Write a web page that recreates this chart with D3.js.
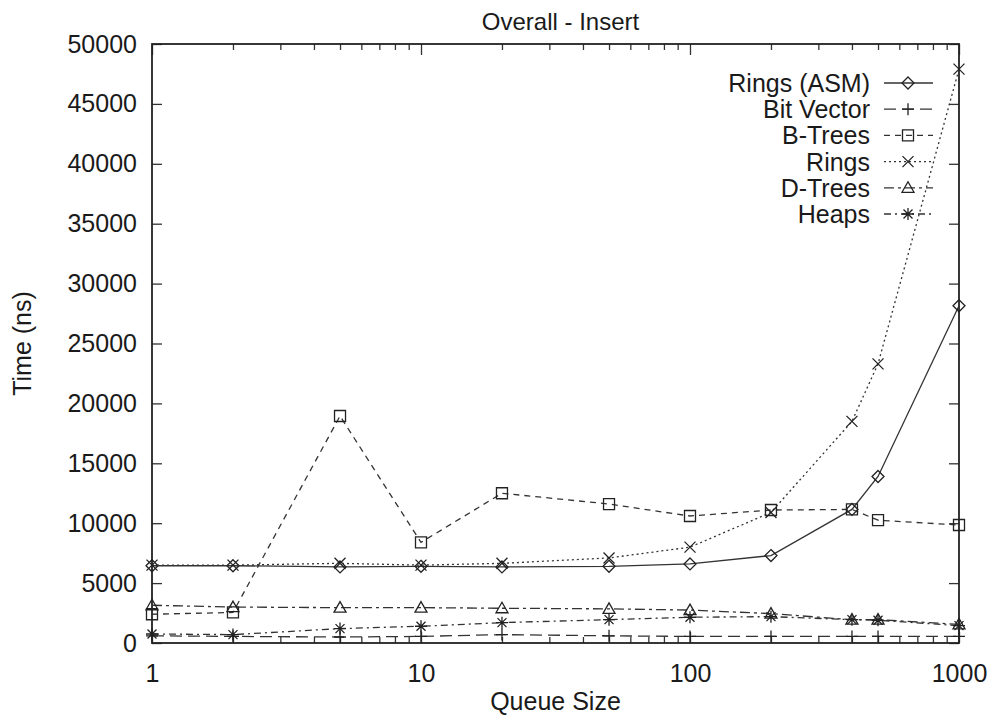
<!DOCTYPE html>
<html>
<head>
<meta charset="utf-8">
<script src="https://cdn.jsdelivr.net/npm/d3@7"></script>
<style>
  html, body { margin: 0; padding: 0; background: #fff; }
  svg { display: block; }
  text { font-family: "Liberation Sans", Arial, Helvetica, sans-serif; fill: #1a1a1a; }
</style>
</head>
<body>
<svg id="chart" width="992" height="715"></svg>
<script>
// ---- data ----
const queueSizes = [1, 2, 5, 10, 20, 50, 100, 200, 400, 500, 1000];
const ringsAsm   = [6450, 6450, 6350, 6400, 6350, 6400, 6600, 7300, 11150, 13900, 28150];
const bitVector  = [600, 550, 500, 550, 700, 600, 550, 550, 550, 550, 550];
const bTrees     = [2400, 2550, 18950, 8400, 12500, 11600, 10600, 11100, 11150, 10250, 9850];
const rings      = [6500, 6500, 6650, 6500, 6650, 7100, 8000, 10900, 18500, 23300, 47900];
const dTrees     = [3150, 3000, 2950, 2950, 2900, 2850, 2750, 2450, 1950, 1950, 1550];
const heaps      = [750, 700, 1200, 1400, 1700, 1950, 2150, 2200, 1950, 1900, 1450];
const seriesNames = ["Rings (ASM)", "Bit Vector", "B-Trees", "Rings", "D-Trees", "Heaps"];
const yTicks = [0, 5000, 10000, 15000, 20000, 25000, 30000, 35000, 40000, 45000, 50000];
const xMajorTicks = [1, 10, 100, 1000];
const xMinorTicks = [2,3,4,5,6,7,8,9,20,30,40,50,60,70,80,90,200,300,400,500,600,700,800,900];
const titleText = "Overall - Insert";
const xLabel = "Queue Size";
const yLabel = "Time (ns)";

// ---- layout ----
const L = 152, R = 959, T = 44, B = 643;
const svg = d3.select("#chart");
const x = d3.scaleLog().domain([1, 1000]).range([L, R]);
const y = d3.scaleLinear().domain([0, 50000]).range([B, T]);

const series = [
  { name: seriesNames[0], values: ringsAsm,  dash: null,            marker: "diamond" },
  { name: seriesNames[1], values: bitVector, dash: "12,6",          marker: "plus" },
  { name: seriesNames[2], values: bTrees,    dash: "6,5",           marker: "square" },
  { name: seriesNames[3], values: rings,     dash: "2,3",           marker: "times" },
  { name: seriesNames[4], values: dTrees,    dash: "10,4,3,4",      marker: "triangle" },
  { name: seriesNames[5], values: heaps,     dash: "7,4,2,4",       marker: "asterisk" }
];

const markerPath = {
  diamond: "M0,-6L6,0L0,6L-6,0Z",
  square: "M-5.5,-5.5H5.5V5.5H-5.5Z",
  plus: "M-6,0H6M0,-6V6",
  times: "M-5.5,-5.5L5.5,5.5M-5.5,5.5L5.5,-5.5",
  triangle: "M0,-6L6,4.5H-6Z",
  asterisk: "M-6,0H6M0,-6V6M-4.5,-4.5L4.5,4.5M-4.5,4.5L4.5,-4.5"
};

const fontSize = 25;

// ---- axes ----
function styleAxis(g) {
  g.select(".domain").remove();
  g.selectAll(".tick line").attr("stroke", "#333").attr("stroke-width", 1.3);
  g.selectAll(".tick text").style("font-size", fontSize + "px").attr("fill", "#1a1a1a");
}

svg.append("g").attr("transform", `translate(${L},0)`)
  .call(d3.axisLeft(y).tickValues(yTicks).tickFormat(d3.format("d")).tickSizeInner(-10).tickSizeOuter(0).tickPadding(15))
  .call(styleAxis);
svg.append("g").attr("transform", `translate(${R},0)`)
  .call(d3.axisRight(y).tickValues(yTicks).tickFormat("").tickSizeInner(-10).tickSizeOuter(0))
  .call(styleAxis);

svg.append("g").attr("transform", `translate(0,${B})`)
  .call(d3.axisBottom(x).tickValues(xMajorTicks).tickFormat(d3.format("d")).tickSizeInner(-11).tickSizeOuter(0).tickPadding(21))
  .call(styleAxis);
svg.append("g").attr("transform", `translate(0,${B})`)
  .call(d3.axisBottom(x).tickValues(xMinorTicks).tickFormat("").tickSizeInner(-6).tickSizeOuter(0))
  .call(styleAxis);
svg.append("g").attr("transform", `translate(0,${T})`)
  .call(d3.axisTop(x).tickValues(xMajorTicks).tickFormat("").tickSizeInner(-11).tickSizeOuter(0))
  .call(styleAxis);
svg.append("g").attr("transform", `translate(0,${T})`)
  .call(d3.axisTop(x).tickValues(xMinorTicks).tickFormat("").tickSizeInner(-6).tickSizeOuter(0))
  .call(styleAxis);

// frame
svg.append("rect").attr("x", L).attr("y", T).attr("width", R - L).attr("height", B - T)
  .attr("fill", "none").attr("stroke", "#222").attr("stroke-width", 1.8);

// ---- lines ----
const line = d3.line().x((d, i) => x(queueSizes[i])).y(d => y(d));
series.forEach(s => {
  svg.append("path").datum(s.values)
    .attr("d", line)
    .attr("fill", "none")
    .attr("stroke", "#333")
    .attr("stroke-width", 1.3)
    .attr("stroke-dasharray", s.dash);
  svg.append("g").selectAll("path").data(s.values).join("path")
    .attr("transform", (d, i) => `translate(${x(queueSizes[i])},${y(d)})`)
    .attr("d", markerPath[s.marker])
    .attr("fill", "none")
    .attr("stroke", "#222")
    .attr("stroke-width", 1.3);
});

// ---- legend ----
const legend = svg.append("g");
series.forEach((s, i) => {
  const ly = 83 + i * 26.2;
  legend.append("text").attr("x", 870).attr("y", ly).attr("dy", "0.36em")
    .attr("text-anchor", "end").style("font-size", fontSize + "px").text(s.name);
  legend.append("line").attr("x1", 884).attr("x2", 933).attr("y1", ly).attr("y2", ly)
    .attr("stroke", "#333").attr("stroke-width", 1.3).attr("stroke-dasharray", s.dash);
  legend.append("path").attr("transform", `translate(908,${ly})`)
    .attr("d", markerPath[s.marker]).attr("fill", "none").attr("stroke", "#222").attr("stroke-width", 1.3);
});

// ---- titles ----
svg.append("text").attr("x", (L + R) / 2 + 5).attr("y", 21).attr("dy", "0.36em")
  .attr("text-anchor", "middle")
  .style("font-size", "24px").text(titleText);
svg.append("text").attr("x", (L + R) / 2).attr("y", 701).attr("dy", "0.36em")
  .attr("text-anchor", "middle").style("font-size", fontSize + "px").text(xLabel);
svg.append("text").attr("transform", `translate(22,${(T + B) / 2}) rotate(-90)`).attr("dy", "0.36em")
  .attr("text-anchor", "middle").style("font-size", fontSize + "px").text(yLabel);
</script>
</body>
</html>
